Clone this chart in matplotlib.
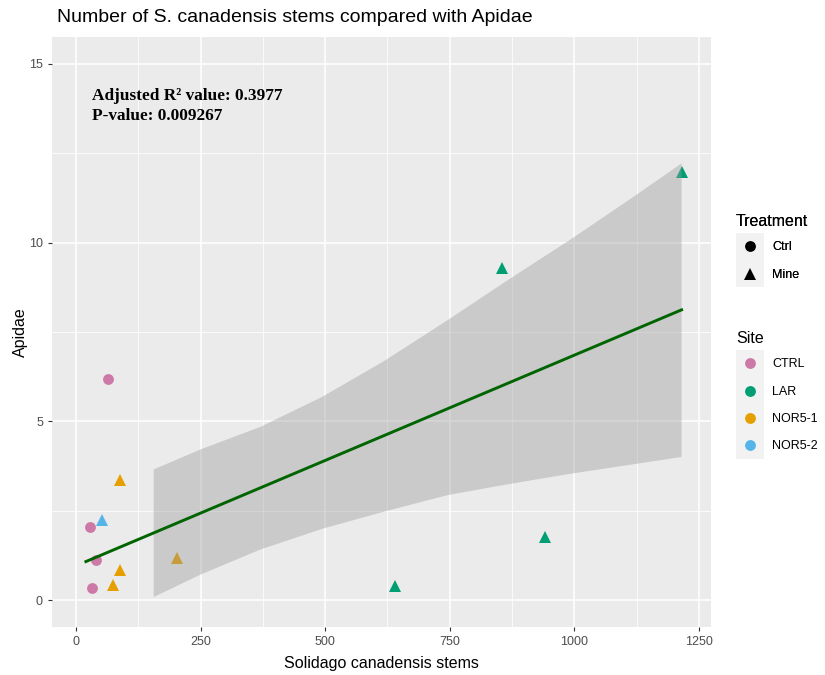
import matplotlib
matplotlib.use("Agg")
import matplotlib.pyplot as plt
from matplotlib.legend_handler import HandlerBase
from matplotlib.lines import Line2D
from matplotlib.patches import Rectangle

# Stems of S. canadensis and Apidae per plot
site = ["CTRL", "CTRL", "CTRL", "CTRL", "NOR5-2", "NOR5-1", "NOR5-1", "NOR5-1",
        "NOR5-1", "LAR", "LAR", "LAR", "LAR"]
treatment = ["Ctrl", "Ctrl", "Ctrl", "Ctrl", "Mine", "Mine", "Mine", "Mine",
             "Mine", "Mine", "Mine", "Mine", "Mine"]
stems = [64, 28, 40, 33, 52, 88, 88, 74, 203, 855, 1215, 941, 640]
apidae = [6.19, 2.06, 1.12, 0.34, 2.25, 3.37, 0.85, 0.42, 1.19, 9.29, 11.98, 1.76, 0.39]

# Fitted line and its confidence band
fit_x = [20, 1215]
fit_y = [1.08, 8.12]
band_x = [155, 249, 369, 493, 617, 744, 867, 991, 1115, 1214]
band_lo = [0.10, 0.73, 1.43, 2.01, 2.49, 2.95, 3.26, 3.55, 3.81, 4.02]
band_hi = [3.67, 4.23, 4.86, 5.70, 6.70, 7.84, 8.98, 10.10, 11.27, 12.23]

site_levels = ["CTRL", "LAR", "NOR5-1", "NOR5-2"]
site_colors = {"CTRL": "#CC79A7", "LAR": "#009E73", "NOR5-1": "#E69F00", "NOR5-2": "#56B4E9"}
treat_levels = ["Ctrl", "Mine"]
treat_markers = {"Ctrl": "o", "Mine": "^"}
treat_sizes = {"Ctrl": 7.8, "Mine": 9.0}

x_ticks = [0, 250, 500, 750, 1000, 1250]
y_ticks = [0, 5, 10, 15]

plt.rcParams["font.family"] = ["Liberation Sans", "DejaVu Sans"]

fig = plt.figure(figsize=(8.25, 6.75), dpi=100)
ax = fig.add_axes([52 / 825, 1 - 627 / 675, (711 - 52) / 825, (627 - 37) / 675])
ax.set_facecolor("#EBEBEB")
for s in ax.spines.values():
    s.set_visible(False)

ax.set_xlim(-48, 1274)
ax.set_ylim(-0.75, 15.75)
ax.set_xticks(x_ticks)
ax.set_yticks(y_ticks)
ax.set_xticks([125, 375, 625, 875, 1125], minor=True)
ax.set_yticks([2.5, 7.5, 12.5], minor=True)
ax.grid(which="major", color="white", linewidth=1.1)
ax.grid(which="minor", color="white", linewidth=0.55)
ax.set_axisbelow(True)
ax.tick_params(which="major", length=3, width=0.8, color="#333333",
               labelcolor="#4D4D4D", labelsize=9)
ax.tick_params(which="minor", length=0)

for xi, yi, si, ti in zip(stems, apidae, site, treatment):
    ax.plot(xi, yi, linestyle="none", marker=treat_markers[ti],
            markersize=treat_sizes[ti], color=site_colors[si],
            markeredgewidth=0, zorder=3)

ax.fill_between(band_x, band_lo, band_hi, color="#999999", alpha=0.4,
                linewidth=0, zorder=4)
ax.plot(fit_x, fit_y, color="#006400", linewidth=2.1, zorder=5)

ax.text(32, 14.11, "Adjusted R\u00b2 value: 0.3977", family="Liberation Serif",
        weight="bold", fontsize=12.4, va="center", ha="left", zorder=6)
ax.text(32, 13.55, "P-value: 0.009267", family="Liberation Serif",
        weight="bold", fontsize=12.4, va="center", ha="left", zorder=6)

ax.set_xlabel("Solidago canadensis stems", fontsize=11.5, labelpad=6)
ax.set_ylabel("Apidae", fontsize=11.5, labelpad=1)
fig.text(57 / 825, 1 - 18 / 675, "Number of S. canadensis stems compared with Apidae",
         fontsize=14, ha="left", va="center")


class KeyHandler(HandlerBase):
    # grey key box with the marker centred in it; the box also fills the
    # gap between rows so the keys form one block
    def create_artists(self, legend, orig_handle, xdescent, ydescent,
                       width, height, fontsize, trans):
        gap = legend.labelspacing * fontsize / 2
        bg = Rectangle((-xdescent, -ydescent - gap), width, height + 2 * gap,
                       facecolor="#F2F2F2", edgecolor="none", transform=trans)
        mk = Line2D([width / 2 - xdescent], [height / 2 - ydescent],
                    marker=orig_handle.get_marker(),
                    markersize=orig_handle.get_markersize(),
                    color=orig_handle.get_color(), linestyle="none",
                    markeredgewidth=0, transform=trans)
        return [bg, mk]


treat_handles = [Line2D([], [], marker=treat_markers[t], color="black",
                        markersize=treat_sizes[t], linestyle="none")
                 for t in treat_levels]
site_handles = [Line2D([], [], marker="o", color=site_colors[s],
                       markersize=7.8, linestyle="none") for s in site_levels]

legend_kw = dict(frameon=False, loc="upper left", fontsize=9,
                 title_fontsize=11.5, handlelength=2.24, handleheight=2.06,
                 labelspacing=0.6, handletextpad=0.64, borderpad=0,
                 borderaxespad=0, alignment="left",
                 handler_map={Line2D: KeyHandler()})
leg1 = fig.legend(treat_handles, treat_levels, title="Treatment",
                  bbox_to_anchor=(736 / 825, 1 - 214 / 675), **legend_kw)
leg2 = fig.legend(site_handles, site_levels, title="Site",
                  bbox_to_anchor=(736 / 825, 1 - 331 / 675), **legend_kw)
fig.add_artist(leg1)

fig.savefig("out.png", dpi=100)
